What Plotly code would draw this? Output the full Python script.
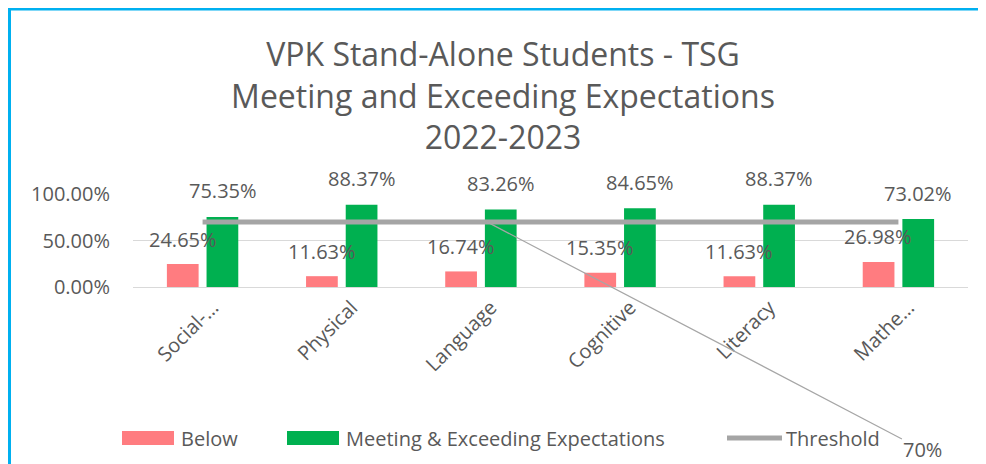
import plotly.graph_objs as go

categories = ['Social-…', 'Physical', 'Language', 'Cognitive', 'Literacy', 'Mathe…']
below = [0.2465, 0.1163, 0.1674, 0.1535, 0.1163, 0.2698]
meeting = [0.7535, 0.8837, 0.8326, 0.8465, 0.8837, 0.7302]
threshold = [0.70, 0.70, 0.70, 0.70, 0.70, 0.70]

RED = '#FF7C80'
GREEN = '#00B050'
GREY = '#A5A5A5'
TEXT = '#595959'
FONT = 'Open Sans'

# the page body has an 8px margin, so the figure starts at (8, 8) in the window
OFF = 8
W, H = 986 - OFF, 464 - OFF
# plot area in window pixels (left, right, top, bottom)
L, R, T, B = 133, 968, 194, 287


def px(p):
    return (p - L) / (R - L)


def py(p):
    return (B - p) / (B - T)


fig = go.Figure()
fig.add_trace(go.Bar(name='Below', x=categories, y=below, marker=dict(color=RED, line=dict(width=0))))
fig.add_trace(go.Bar(name='Meeting & Exceeding Expectations', x=categories, y=meeting,
                     marker=dict(color=GREEN, line=dict(width=0))))
fig.add_trace(go.Scatter(name='Threshold', x=categories, y=threshold, mode='lines',
                         line=dict(color=GREY, width=5), cliponaxis=False))

# data labels
for cat, b, m in zip(categories, below, meeting):
    fig.add_annotation(x=cat, y=b, text=f'{b:.2%}', showarrow=False, xshift=-20, yshift=25,
                       font=dict(family=FONT, size=20, color=TEXT))
    fig.add_annotation(x=cat, y=m, text=f'{m:.2%}', showarrow=False, xshift=20, yshift=26,
                       font=dict(family=FONT, size=20, color=TEXT))

# threshold label with leader line
fig.add_annotation(x=categories[2], y=threshold[2], text=f'{threshold[2]:.0%}', showarrow=True,
                   arrowhead=0, arrowwidth=1.2, arrowcolor='#A6A6A6', ax=436, ay=228,
                   font=dict(family=FONT, size=20, color=TEXT), xshift=6)

# legend drawn by hand, Excel style
legend_y = 438
fig.add_shape(type='rect', xref='paper', yref='paper', x0=px(122), x1=px(174), y0=py(431), y1=py(445),
              fillcolor=RED, line=dict(width=0))
fig.add_shape(type='rect', xref='paper', yref='paper', x0=px(287), x1=px(339), y0=py(431), y1=py(445),
              fillcolor=GREEN, line=dict(width=0))
fig.add_shape(type='line', xref='paper', yref='paper', x0=px(727), x1=px(782), y0=py(legend_y), y1=py(legend_y),
              line=dict(color=GREY, width=5))
for xpos, label in [(179, 'Below'), (344, 'Meeting & Exceeding Expectations'), (784, 'Threshold')]:
    fig.add_annotation(xref='paper', yref='paper', x=px(xpos), y=py(legend_y), text=label, showarrow=False,
                       xanchor='left', yanchor='middle', font=dict(family=FONT, size=20, color=TEXT))

# blue chart frame
fig.add_shape(type='line', xref='paper', yref='paper', x0=px(9.5), x1=px(9.5), y0=py(8), y1=py(470),
              line=dict(color='#00B0F0', width=3))
fig.add_shape(type='line', xref='paper', yref='paper', x0=px(8), x1=px(990), y0=py(9), y1=py(9),
              line=dict(color='#00B0F0', width=3))

fig.update_layout(
    width=W, height=H,
    margin=dict(l=L - OFF, r=986 - R, t=T - OFF, b=464 - B),
    paper_bgcolor='white', plot_bgcolor='white',
    barmode='group', bargap=0.43, bargroupgap=0.2,
    showlegend=False,
    title=dict(text='VPK Stand-Alone Students - TSG<br>Meeting and Exceeding Expectations<br>2022-2023',
               x=(503 - OFF) / W, xanchor='center', y=1 - (66 - OFF) / H, yanchor='middle',
               font=dict(family=FONT, size=32, color=TEXT)),
    font=dict(family=FONT, color=TEXT),
)
fig.update_yaxes(range=[0, 1], dtick=0.5, tickformat='.2%', showgrid=True, gridcolor='#D9D9D9', gridwidth=1,
                 zeroline=False, showline=False, tickfont=dict(family=FONT, size=20, color=TEXT),
                 ticklabelstandoff=22)
fig.update_xaxes(tickangle=-45, showline=True, linecolor='#D9D9D9', linewidth=1, showgrid=False,
                 tickfont=dict(family=FONT, size=20, color=TEXT), ticklabelshift=10)

fig.write_html("out.html")
